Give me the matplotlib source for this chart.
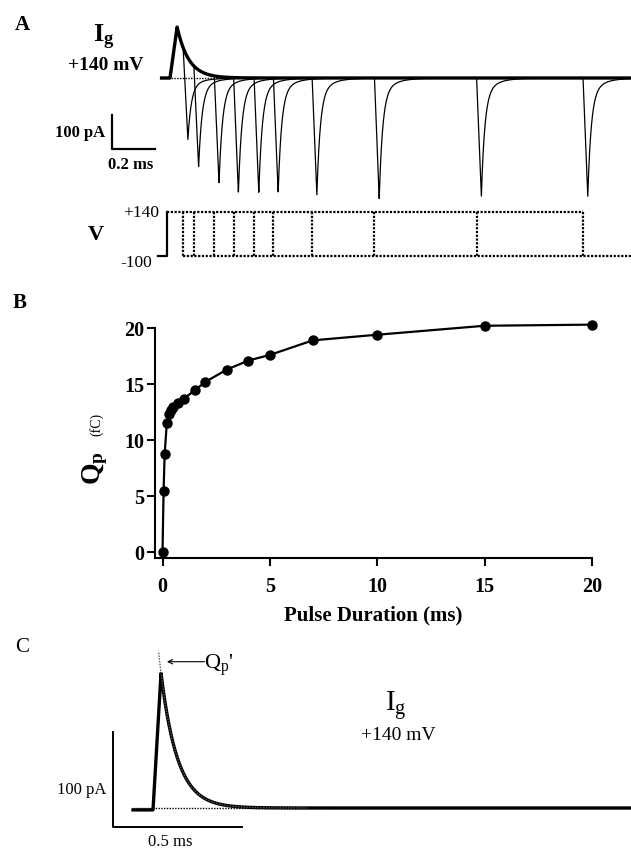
import numpy as np
import matplotlib
matplotlib.use("Agg")
import matplotlib.pyplot as plt

plt.rcParams['font.family'] = ['Liberation Serif', 'DejaVu Serif']
plt.rcParams['mathtext.fontset'] = 'custom'
plt.rcParams['mathtext.rm'] = 'Liberation Serif'
plt.rcParams['mathtext.bf'] = 'Liberation Serif:bold'
plt.rcParams['mathtext.it'] = 'Liberation Serif:italic'

W, H = 631, 850

# --- panel A: gating currents for pulses of increasing length (+140 mV)
pulse_ms = [0.075, 0.125, 0.22, 0.31, 0.405, 0.495, 0.675, 0.965, 1.44, 1.935]
tail_pA = [182, 262, 309, 338, 338, 338, 344, 356, 350, 350]
on_peak_pA = 150
on_rise_ms = (0.014, 0.047)      # start of rise, time of peak
on_tau_ms = 0.054
tail_ttp_ms = 0.022              # time to peak of the OFF tail
tail_tau_ms = (0.016, 0.06)
tail_frac = (0.86, 0.14)
v_hold, v_test = -100, 140

# --- panel B: charge vs pulse duration
dur_ms = [0, 0.05, 0.1, 0.2, 0.3, 0.4, 0.5, 0.7, 1, 1.5, 2, 3, 4, 5, 7, 10, 15, 20]
qp_fC = [0, 5.5, 8.8, 11.5, 12.3, 12.7, 13.0, 13.3, 13.7, 14.45, 15.2,
         16.3, 17.1, 17.6, 18.9, 19.4, 20.2, 20.3]
b_ticks = [0, 5, 10, 15, 20]

# --- panel C: single ON gating current
c_pre_pA = -2
c_peak_pA = 142
c_rise_ms = (0.0, 0.031)
c_tau_ms = 0.064
c_fit_start_ms = 0.022


fig = plt.figure(figsize=(W / 100, H / 100), dpi=100)


def px(x, y):
    return x / W, 1 - y / H


def panel(box, x0px, xs, y0px, ys):
    # axes placed in pixel box (l, t, r, b) with a linear px-per-unit scale
    l, t, r, b = box
    ax = fig.add_axes([l / W, 1 - b / H, (r - l) / W, (b - t) / H])
    ax.set_xlim((l - x0px) / xs, (r - x0px) / xs)
    ax.set_ylim((y0px - b) / ys, (y0px - t) / ys)
    ax.axis('off')
    return ax


def label(x, y, s, size, weight='normal', **kw):
    kw.setdefault('ha', 'center')
    kw.setdefault('va', 'center')
    fig.text(*px(x, y), s, fontsize=size, fontweight=weight, **kw)


def on_current(t):
    r0, r1 = on_rise_ms
    rise = on_peak_pA * (t - r0) / (r1 - r0)
    dec = on_peak_pA * np.exp(-(t - r1) / on_tau_ms)
    return np.where(t < r0, 0.0, np.where(t < r1, rise, dec))


def pulse_trace(t, d, amp):
    y = on_current(t)
    y_end = float(on_current(np.array(d)))
    tp = d + tail_ttp_ms
    fall = y_end + (-amp - y_end) * (t - d) / tail_ttp_ms
    dt = np.clip(t - tp, 0, None)
    rec = -amp * (tail_frac[0] * np.exp(-dt / tail_tau_ms[0]) +
                  tail_frac[1] * np.exp(-dt / tail_tau_ms[1]))
    return np.where(t < d, y, np.where(t < tp, fall, rec))


# ---------------- panel A: currents
axA = panel((0, 0, W, 205), 167, 215, 78, 0.34)
t = np.linspace(-0.033, 2.16, 6000)
for d, a in zip(pulse_ms, tail_pA):
    tt = t[t >= 0]
    axA.plot(tt, pulse_trace(tt, d, a), color='black', lw=0.9)
axA.plot([-0.033, 0.3], [0, 0], color='black', lw=1.0, ls=(0, (1, 1)))
axA.plot(t, on_current(t), color='black', lw=2.4, solid_capstyle='butt')
# scale bars 100 pA / 0.2 ms
sx, sy = -0.256, -209
axA.plot([sx, sx, sx + 0.2], [sy + 100, sy, sy], color='black', lw=1.6)

label(22, 25, 'A', 15, 'bold')
fig.text(*px(93, 42), r'$\mathbf{I_g}$', fontsize=19, ha='left', va='baseline')
label(106, 66, '+140 mV', 14, 'bold')
label(105, 133, '100 pA', 12, 'bold', ha='right')
label(131, 165, '0.2 ms', 12, 'bold')

# ---------------- panel A: voltage protocol
axV = panel((0, 195, W, 280), 167, 215, 237.7, 44 / 240)
dot = (0, (1, 0.7))
axV.plot([-0.042, 0, 0], [v_hold, v_hold, v_test], color='black', lw=1.6)
axV.plot([0, pulse_ms[-1]], [v_test, v_test], color='black', lw=1.6, ls=dot)
for d in pulse_ms:
    axV.plot([d, d], [v_test, v_hold], color='black', lw=1.6, ls=dot)
axV.plot([pulse_ms[0], 2.16], [v_hold, v_hold], color='black', lw=1.6, ls=dot)

label(96, 235, 'V', 16, 'bold')
label(159, 213, '+140', 12.5, ha='right')
label(152, 263, '-100', 12.5, ha='right')

# ---------------- panel B
axB = fig.add_axes([155 / W, 1 - 558 / H, (592 - 155) / W, (558 - 328) / H])
axB.plot(dur_ms, qp_fC, '-o', color='black', lw=1.6, ms=6.5, clip_on=False)
axB.set_xlim(-0.35, 20)
axB.set_ylim(-0.5, 20)
axB.set_xticks(b_ticks)
axB.set_yticks(b_ticks)
for s in ('top', 'right'):
    axB.spines[s].set_visible(False)
for s in ('left', 'bottom'):
    axB.spines[s].set_linewidth(1.5)
axB.tick_params(direction='out', length=5.5, width=1.5, labelsize=14.5)
axB.tick_params(axis='x', pad=8)
axB.tick_params(axis='y', pad=2)
for lab in axB.get_xticklabels() + axB.get_yticklabels():
    lab.set_fontweight('bold')
axB.set_xlabel('Pulse Duration (ms)', fontsize=15, fontweight='bold', labelpad=6)
axB.patch.set_visible(False)

label(20, 303, 'B', 15, 'bold')
fig.text(*px(95, 468), r'$\mathbf{Q_p}$', fontsize=20, rotation=90,
         ha='center', va='center')
label(96, 424, '(fC)', 10, rotation=90)

# ---------------- panel C
axC = panel((0, 630, W, 850), 153, 258, 808, 0.95)
tc = np.linspace(-0.0775, 1.853, 4000)
r0, r1 = c_rise_ms
yc = np.where(tc < r0, c_pre_pA,
              np.where(tc < r1, c_pre_pA + (c_peak_pA - c_pre_pA) * (tc - r0) / (r1 - r0),
                       c_peak_pA * np.exp(-(tc - r1) / c_tau_ms)))
axC.plot([tc[0], tc[-1]], [0, 0], color='black', lw=1.0, ls=(0, (1, 1)))
axC.plot(tc, yc, color='black', lw=2.4)
tf = np.linspace(c_fit_start_ms, 0.6, 400)
axC.plot(tf, c_peak_pA * np.exp(-(tf - r1) / c_tau_ms), color='#555555',
         lw=1.0, ls=(0, (1, 1)))
# scale bars 100 pA / 0.5 ms
cx, cy = -0.155, -20
axC.plot([cx, cx, cx + 0.5], [cy + 100, cy, cy], color='black', lw=1.4)
axC.annotate('', xy=(0.054, 154), xytext=(0.2, 154),
             arrowprops=dict(arrowstyle='->', lw=0.8, color='black',
                             mutation_scale=8, shrinkA=0, shrinkB=0))

label(22, 648, 'C', 15)
fig.text(*px(204, 669), r"$\mathrm{Q_p}$'", fontsize=16, ha='left', va='baseline')
fig.text(*px(385, 711), r'$\mathrm{I_g}$', fontsize=21, ha='left', va='baseline')
label(398, 736, '+140 mV', 14)
label(106, 790, '100 pA', 12, ha='right')
label(170, 842, '0.5 ms', 12)

fig.savefig('out.png', dpi=100)
